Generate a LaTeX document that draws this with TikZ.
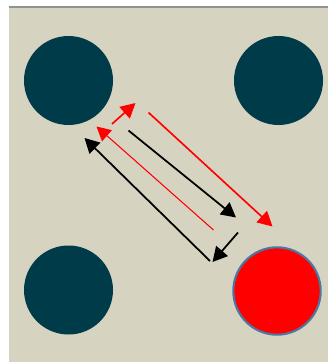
\documentclass[tikz,border=0pt]{standalone}
\usepackage{tikz}
\usetikzlibrary{arrows.meta}
\definecolor{bgsand}{HTML}{D7D3C1}
\definecolor{darkteal}{HTML}{003B4A}
\definecolor{rimblue}{HTML}{4A78A0}
\definecolor{topgray}{HTML}{8E948C}
\begin{document}
\begin{tikzpicture}[
  x=0.03cm, y=-0.03cm,
  dot/.style={circle, inner sep=0pt, minimum size=2.67cm, fill=darkteal},
  hotdot/.style={circle, inner sep=0pt, minimum size=2.62cm, fill=red, draw=rimblue, line width=1.8pt},
  blk/.style={-{Triangle[length=4.4mm, width=4.6mm]}, line width=1.5pt, black},
  redarr/.style={-{Triangle[length=4.4mm, width=4.6mm]}, line width=1.4pt, red},
  redthin/.style={-{Triangle[length=4.2mm, width=4.4mm]}, line width=0.9pt, red},
]
  % canvas
  \useasboundingbox (0,0) rectangle (328,362);
  \fill[white] (0,0) rectangle (328,362);
  \fill[bgsand] (9,7) rectangle (328,362);
  \fill[topgray] (9,5.5) rectangle (328,7.5);

  % holes
  \node[dot] (tl) at (68.5,80.5) {};
  \node[dot] (tr) at (278.5,80.5) {};
  \node[dot] (bl) at (68.5,290) {};
  \node[hotdot] (br) at (277,291) {};

  % arrow end points
  \coordinate (ra1) at (112,124);   \coordinate (ra2) at (135.5,103);
  \coordinate (rb1) at (148.5,112.5); \coordinate (rb2) at (272.5,226.5);
  \coordinate (ka1) at (128.5,130.5); \coordinate (ka2) at (236,217.5);
  \coordinate (rc1) at (213.5,230); \coordinate (rc2) at (96.5,126.5);
  \coordinate (kb1) at (238,232.5); \coordinate (kb2) at (212.5,262);
  \coordinate (kc1) at (210,261);   \coordinate (kc2) at (84.5,138);

  \draw[redarr] (ra1) -- (ra2);
  \draw[redarr] (rb1) -- (rb2);
  \draw[blk] (ka1) -- (ka2);
  \draw[redthin] (rc1) -- (rc2);
  \draw[blk] (kb1) -- (kb2);
  \draw[blk] (kc1) -- (kc2);
\end{tikzpicture}
\end{document}
